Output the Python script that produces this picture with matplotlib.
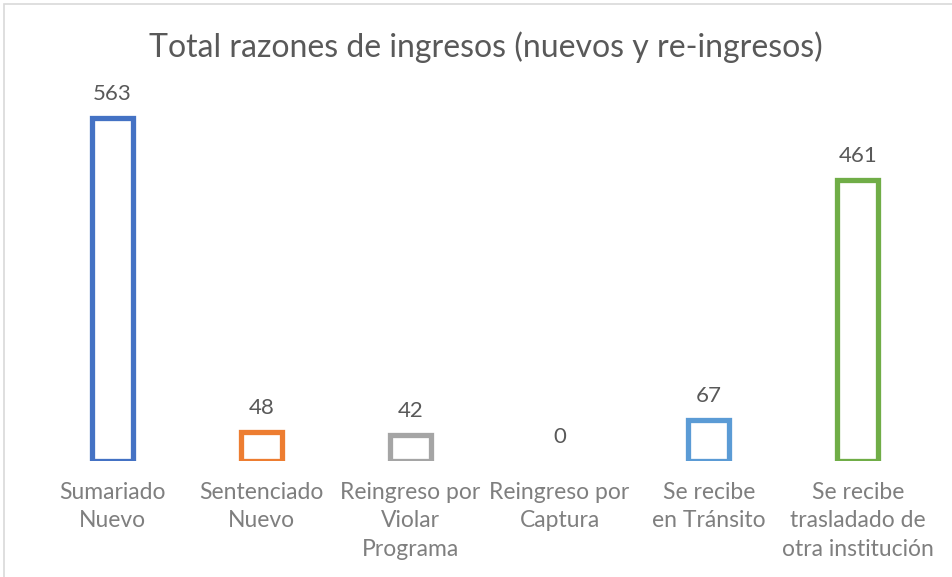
import matplotlib
matplotlib.use('Agg')
import matplotlib.pyplot as plt
from matplotlib.patches import Rectangle

categorias = ['Sumariado\nNuevo', 'Sentenciado\nNuevo', 'Reingreso por\nViolar\nPrograma',
              'Reingreso por\nCaptura', 'Se recibe\nen Tránsito',
              'Se recibe\ntrasladado de\notra institución']
valores = [563, 48, 42, 0, 67, 461]
colores = ['#4472C4', '#ED7D31', '#A5A5A5', '#FFC000', '#5B9BD5', '#70AD47']
titulo = 'Total razones de ingresos (nuevos y re-ingresos)'

plt.rcParams['font.family'] = ['Lato', 'DejaVu Sans']

fig = plt.figure(figsize=(9.52, 5.77), dpi=100)
# borde del grafico
fig.patches.append(Rectangle((4 / 952, -0.01), 1.0, 1.0 - 4 / 577 + 0.01,
                             transform=fig.transFigure, fill=False,
                             edgecolor='#D9D9D9', linewidth=1.2))

ax = fig.add_axes([37.5 / 952, 116 / 577, 895 / 952, 365.4 / 577])
x = list(range(len(valores)))
anchos = [3.8 if v > 0 else 0 for v in valores]
ax.bar(x, valores, width=0.275, facecolor='none', edgecolor=colores, linewidth=anchos)
ax.set_xlim(-0.5, len(valores) - 0.5)
ax.set_ylim(0, 600)

for xi, v in zip(x, valores):
    ax.annotate(str(v), (xi, v), xytext=(0, 24), textcoords='offset pixels',
                ha='center', va='center', fontsize=16, color='#595959')

ax.set_xticks(x)
ax.set_xticklabels(categorias, fontsize=16.5, color='#7F7F7F', linespacing=1.45, va='top')
ax.tick_params(axis='x', length=0, pad=15)
ax.set_yticks([])
for s in ax.spines.values():
    s.set_visible(False)

fig.text(486 / 952, 1 - 47 / 577, titulo, ha='center', va='center',
         fontsize=23, color='#595959')

fig.savefig('out.png', dpi=100)
